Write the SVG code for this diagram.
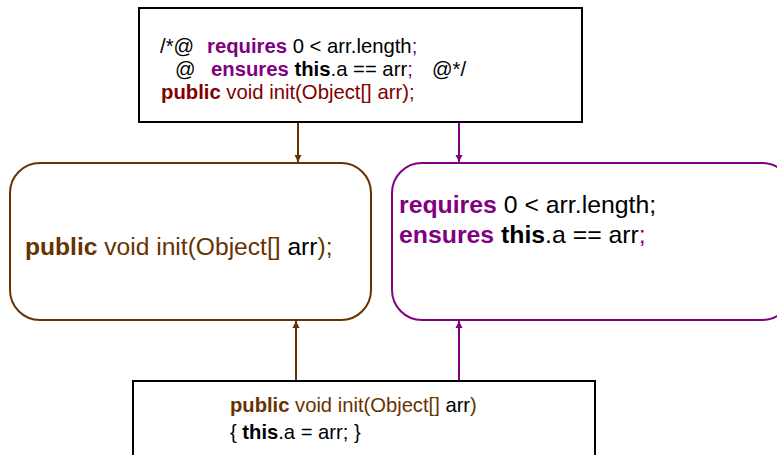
<svg xmlns="http://www.w3.org/2000/svg" width="777" height="455" viewBox="0 0 777 455">
<defs>
<style>
text{font-family:"Liberation Sans",Arial,sans-serif;fill:#000}
.b{font-weight:bold}
.br{fill:#663300}
.pu{fill:#800080}
.dr{fill:#800000}
.box{fill:#fff;stroke:#000;stroke-width:2}
</style>
<marker id="ab" markerWidth="8" markerHeight="8" refX="7" refY="4" orient="auto" markerUnits="userSpaceOnUse"><path d="M0,0.5 L7,4 L0,7.5 z" fill="#663300"/></marker>
<marker id="ap" markerWidth="8" markerHeight="8" refX="7" refY="4" orient="auto" markerUnits="userSpaceOnUse"><path d="M0,0.5 L7,4 L0,7.5 z" fill="#800080"/></marker>
</defs>
<rect width="777" height="455" fill="#fff"/>
<g id="connectors" fill="none" stroke-width="2">
<line x1="298" y1="122" x2="298" y2="162" stroke="#663300" marker-end="url(#ab)"/>
<line x1="459" y1="122" x2="459" y2="162" stroke="#800080" marker-end="url(#ap)"/>
<line x1="296" y1="381" x2="296" y2="321" stroke="#663300" marker-end="url(#ab)"/>
<line x1="459" y1="381" x2="459" y2="321" stroke="#800080" marker-end="url(#ap)"/>
</g>
<g id="spec">
<rect class="box" x="139" y="8" width="443" height="114"/>
<text font-size="20.3" xml:space="preserve"><tspan x="160" y="53">/*@</tspan><tspan x="207" class="b pu">requires</tspan><tspan> 0 &lt; arr.length</tspan><tspan class="pu">;</tspan></text>
<text font-size="20.3" xml:space="preserve"><tspan x="175" y="76">@</tspan><tspan x="211" class="b pu">ensures</tspan><tspan class="b"> this</tspan><tspan>.a == arr</tspan><tspan class="pu">;</tspan><tspan x="432">@*/</tspan></text>
<text font-size="20.3" xml:space="preserve" x="161" y="99"><tspan class="b dr">public</tspan><tspan class="dr"> void init(Object[] arr);</tspan></text>
</g>
<g id="signature">
<rect x="10" y="163" width="361" height="157" rx="30" ry="30" fill="#fff" stroke="#663300" stroke-width="2"/>
<text font-size="24.6" xml:space="preserve" x="25" y="255"><tspan class="b br">public</tspan><tspan class="br"> void init(Object[]</tspan><tspan> arr</tspan><tspan class="br">);</tspan></text>
</g>
<g id="contract">
<rect x="392" y="163" width="400" height="157" rx="30" ry="30" fill="#fff" stroke="#800080" stroke-width="2"/>
<text font-size="24.8" xml:space="preserve" x="399" y="213"><tspan class="b pu">requires</tspan><tspan> 0 &lt; arr.length;</tspan></text>
<text font-size="24.8" xml:space="preserve" x="399" y="243"><tspan class="b pu">ensures</tspan><tspan class="b"> this</tspan><tspan>.a == arr</tspan><tspan class="pu">;</tspan></text>
</g>
<g id="impl">
<rect class="box" x="133" y="381" width="462" height="90"/>
<text font-size="20.2" xml:space="preserve" x="230" y="412"><tspan class="b br">public</tspan><tspan class="br"> void init(Object[]</tspan><tspan> arr</tspan><tspan class="br">)</tspan></text>
<text font-size="20.2" xml:space="preserve" x="230" y="439"><tspan>{ </tspan><tspan class="b">this</tspan><tspan>.a = arr; }</tspan></text>
</g>
</svg>
